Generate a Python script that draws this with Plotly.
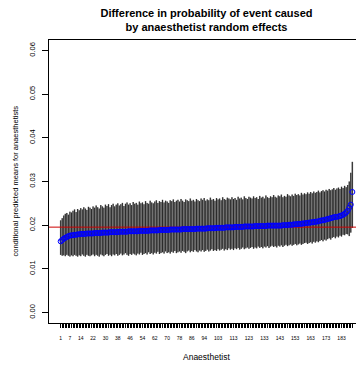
import plotly.graph_objects as go

# conditional predicted means (sorted) for 190 anaesthetists
means = [
    0.0163, 0.0166, 0.0169, 0.0171, 0.0173, 0.0175, 0.0176, 0.0177, 0.0177, 0.0178,
    0.0178, 0.0179, 0.0179, 0.0180, 0.0180, 0.0180, 0.0180, 0.0181, 0.0181, 0.0181,
    0.0181, 0.0181, 0.0182, 0.0182, 0.0182, 0.0182, 0.0182, 0.0183, 0.0183, 0.0183,
    0.0183, 0.0183, 0.0184, 0.0184, 0.0184, 0.0184, 0.0184, 0.0184, 0.0185, 0.0185,
    0.0185, 0.0185, 0.0185, 0.0185, 0.0186, 0.0186, 0.0186, 0.0186, 0.0186, 0.0186,
    0.0186, 0.0187, 0.0187, 0.0187, 0.0187, 0.0187, 0.0187, 0.0187, 0.0188, 0.0188,
    0.0188, 0.0188, 0.0188, 0.0188, 0.0189, 0.0189, 0.0189, 0.0189, 0.0189, 0.0189,
    0.0189, 0.0190, 0.0190, 0.0190, 0.0190, 0.0190, 0.0190, 0.0190, 0.0190, 0.0191,
    0.0191, 0.0191, 0.0191, 0.0191, 0.0191, 0.0191, 0.0191, 0.0191, 0.0192, 0.0192,
    0.0192, 0.0192, 0.0192, 0.0192, 0.0192, 0.0193, 0.0193, 0.0193, 0.0193, 0.0193,
    0.0193, 0.0194, 0.0194, 0.0194, 0.0194, 0.0194, 0.0194, 0.0195, 0.0195, 0.0195,
    0.0195, 0.0195, 0.0195, 0.0196, 0.0196, 0.0196, 0.0196, 0.0196, 0.0196, 0.0197,
    0.0197, 0.0197, 0.0197, 0.0197, 0.0197, 0.0197, 0.0198, 0.0198, 0.0198, 0.0198,
    0.0198, 0.0198, 0.0198, 0.0198, 0.0199, 0.0199, 0.0199, 0.0199, 0.0199, 0.0199,
    0.0199, 0.0199, 0.0199, 0.0199, 0.0200, 0.0200, 0.0200, 0.0200, 0.0201, 0.0201,
    0.0201, 0.0202, 0.0202, 0.0202, 0.0203, 0.0203, 0.0203, 0.0204, 0.0204, 0.0205,
    0.0205, 0.0206, 0.0206, 0.0207, 0.0207, 0.0208, 0.0208, 0.0209, 0.0210, 0.0211,
    0.0211, 0.0212, 0.0213, 0.0214, 0.0215, 0.0216, 0.0217, 0.0218, 0.0219, 0.0219,
    0.0220, 0.0221, 0.0222, 0.0224, 0.0226, 0.0229, 0.0233, 0.0240, 0.0247, 0.0276,
]

upper = [
    0.0211, 0.0216, 0.0222, 0.0226, 0.0228, 0.0224, 0.0231, 0.0229, 0.0233, 0.0236,
    0.0230, 0.0237, 0.0234, 0.0239, 0.0236, 0.0241, 0.0238, 0.0235, 0.0242, 0.0240,
    0.0237, 0.0243, 0.0240, 0.0245, 0.0241, 0.0238, 0.0246, 0.0243, 0.0240, 0.0247,
    0.0244, 0.0248, 0.0241, 0.0246, 0.0249, 0.0243, 0.0247, 0.0250, 0.0245, 0.0248,
    0.0251, 0.0244, 0.0249, 0.0252, 0.0247, 0.0250, 0.0246, 0.0253, 0.0249, 0.0251,
    0.0247, 0.0254, 0.0250, 0.0252, 0.0248, 0.0255, 0.0251, 0.0249, 0.0256, 0.0252,
    0.0250, 0.0254, 0.0257, 0.0251, 0.0255, 0.0253, 0.0258, 0.0252, 0.0256, 0.0254,
    0.0251, 0.0257, 0.0255, 0.0259, 0.0253, 0.0256, 0.0258, 0.0254, 0.0260, 0.0256,
    0.0253, 0.0259, 0.0257, 0.0255, 0.0261, 0.0256, 0.0258, 0.0254, 0.0260, 0.0257,
    0.0255, 0.0261, 0.0258, 0.0262, 0.0256, 0.0259, 0.0257, 0.0263, 0.0258, 0.0260,
    0.0256, 0.0262, 0.0259, 0.0261, 0.0257, 0.0264, 0.0260, 0.0258, 0.0263, 0.0261,
    0.0259, 0.0264, 0.0260, 0.0262, 0.0258, 0.0265, 0.0261, 0.0263, 0.0259, 0.0266,
    0.0262, 0.0260, 0.0265, 0.0263, 0.0261, 0.0266, 0.0262, 0.0264, 0.0260, 0.0267,
    0.0263, 0.0265, 0.0261, 0.0268, 0.0264, 0.0262, 0.0266, 0.0264, 0.0269, 0.0265,
    0.0263, 0.0268, 0.0266, 0.0270, 0.0264, 0.0267, 0.0265, 0.0271, 0.0268, 0.0266,
    0.0270, 0.0267, 0.0272, 0.0269, 0.0271, 0.0268, 0.0274, 0.0270, 0.0273, 0.0271,
    0.0275, 0.0272, 0.0276, 0.0273, 0.0277, 0.0274, 0.0276, 0.0279, 0.0275, 0.0278,
    0.0280, 0.0277, 0.0281, 0.0279, 0.0283, 0.0280, 0.0282, 0.0285, 0.0281, 0.0284,
    0.0286, 0.0283, 0.0288, 0.0285, 0.0290, 0.0287, 0.0292, 0.0300, 0.0320, 0.0345,
]

lower = [
    0.0132, 0.0130, 0.0131, 0.0129, 0.0132, 0.0130, 0.0128, 0.0131, 0.0129, 0.0132,
    0.0130, 0.0128, 0.0131, 0.0129, 0.0133, 0.0130, 0.0128, 0.0132, 0.0130, 0.0129,
    0.0131, 0.0133, 0.0129, 0.0132, 0.0130, 0.0128, 0.0133, 0.0131, 0.0129, 0.0132,
    0.0134, 0.0130, 0.0132, 0.0129, 0.0133, 0.0131, 0.0134, 0.0130, 0.0132, 0.0135,
    0.0131, 0.0133, 0.0136, 0.0132, 0.0130, 0.0134, 0.0132, 0.0135, 0.0133, 0.0131,
    0.0135, 0.0133, 0.0137, 0.0132, 0.0134, 0.0136, 0.0133, 0.0138, 0.0134, 0.0136,
    0.0133, 0.0137, 0.0135, 0.0139, 0.0134, 0.0136, 0.0138, 0.0135, 0.0140, 0.0136,
    0.0138, 0.0135, 0.0139, 0.0137, 0.0141, 0.0136, 0.0138, 0.0140, 0.0137, 0.0141,
    0.0139, 0.0136, 0.0140, 0.0142, 0.0138, 0.0141, 0.0139, 0.0143, 0.0140, 0.0138,
    0.0142, 0.0140, 0.0143, 0.0139, 0.0141, 0.0144, 0.0140, 0.0142, 0.0145, 0.0141,
    0.0143, 0.0141, 0.0145, 0.0142, 0.0144, 0.0146, 0.0142, 0.0145, 0.0143, 0.0147,
    0.0144, 0.0146, 0.0143, 0.0147, 0.0145, 0.0148, 0.0144, 0.0146, 0.0149, 0.0145,
    0.0147, 0.0149, 0.0146, 0.0148, 0.0150, 0.0146, 0.0149, 0.0147, 0.0151, 0.0148,
    0.0150, 0.0147, 0.0151, 0.0149, 0.0152, 0.0148, 0.0151, 0.0153, 0.0150, 0.0152,
    0.0149, 0.0153, 0.0151, 0.0154, 0.0150, 0.0153, 0.0155, 0.0152, 0.0154, 0.0156,
    0.0153, 0.0155, 0.0157, 0.0154, 0.0156, 0.0158, 0.0155, 0.0157, 0.0159, 0.0160,
    0.0157, 0.0159, 0.0161, 0.0158, 0.0162, 0.0160, 0.0163, 0.0161, 0.0164, 0.0166,
    0.0163, 0.0167, 0.0165, 0.0168, 0.0170, 0.0167, 0.0171, 0.0173, 0.0170, 0.0174,
    0.0172, 0.0176, 0.0174, 0.0178, 0.0177, 0.0180, 0.0179, 0.0175, 0.0183, 0.0194,
]

overall_mean = 0.01955

x_labels = [1, 7, 14, 22, 30, 38, 46, 54, 62, 70, 78, 86, 94, 103, 113, 123,
            133, 143, 153, 163, 173, 183]
y_ticks = [0.00, 0.01, 0.02, 0.03, 0.04, 0.05, 0.06]

n = len(means)
xs = list(range(1, n + 1))

seg_x, seg_y = [], []
for i, lo, hi in zip(xs, lower, upper):
    seg_x += [i, i, None]
    seg_y += [lo, hi, None]

FONT = "Liberation Sans, Arial, Helvetica, sans-serif"

# page body has an 8px margin: figure is placed at (8, 8) in the window
W, H = 356, 357
ML, MT, MB = 41, 31.5, 42
PW = W - ML
PH = H - MT - MB

fig = go.Figure()
fig.add_trace(go.Scatter(x=seg_x, y=seg_y, mode="lines",
                         line=dict(color="#8a8a8a", width=1.6),
                         hoverinfo="skip", showlegend=False))
fig.add_trace(go.Scatter(x=seg_x, y=seg_y, mode="lines",
                         line=dict(color="#000000", width=0.7),
                         hoverinfo="skip", showlegend=False))
fig.add_trace(go.Scatter(x=[-6.56, 197.56], y=[overall_mean, overall_mean],
                         mode="lines", line=dict(color="#cc0000", width=1),
                         showlegend=False))
fig.add_trace(go.Scatter(x=xs, y=means, mode="markers",
                         marker=dict(symbol="circle-open", size=5, color="#0000ff",
                                     line=dict(width=1, color="#0000ff")),
                         showlegend=False))

ticktext = [str(i) if i in x_labels else "" for i in xs]

fig.update_layout(
    width=W, height=H,
    margin=dict(l=ML, r=0, t=MT, b=MB, pad=0),
    paper_bgcolor="white", plot_bgcolor="white",
    font=dict(family=FONT, color="black"),
    title=dict(text="<b>Difference in probability of event caused<br>by anaesthetist random effects</b>",
               x=198.5 / W, xanchor="center", y=1 - 8.6 / H, yanchor="middle",
               font=dict(size=11, family=FONT)),
    xaxis=dict(range=[-6.56, 197.56], tickvals=xs, ticktext=ticktext,
               ticks="outside", ticklen=4, tickwidth=1, tickcolor="black",
               tickfont=dict(size=5, family=FONT), tickangle=0,
               showline=True, linecolor="black", linewidth=1, mirror=True,
               showgrid=False, zeroline=False, ticklabelstandoff=6),
    yaxis=dict(range=[-0.0024, 0.0624], tickvals=y_ticks,
               ticktext=["%.2f" % v for v in y_ticks],
               ticks="outside", ticklen=6, tickwidth=1, tickcolor="black",
               tickfont=dict(size=7.5, family=FONT), tickangle=-90,
               showline=True, linecolor="black", linewidth=1, mirror=False,
               showgrid=False, zeroline=False, ticklabelstandoff=4),
    annotations=[
        dict(text="Anaesthetist", xref="paper", yref="paper",
             x=(198.5 - ML) / PW, y=-(349 - (MT + PH)) / PH, xanchor="center", yanchor="middle",
             showarrow=False, font=dict(size=8.5, family=FONT)),
        dict(text="conditional predicted means for anaesthetists", xref="paper", yref="paper",
             x=(7 - ML) / PW, y=0.5, xanchor="center", yanchor="middle", textangle=-90,
             showarrow=False, font=dict(size=7.5, family=FONT)),
    ],
)

fig.write_html("out.html")
